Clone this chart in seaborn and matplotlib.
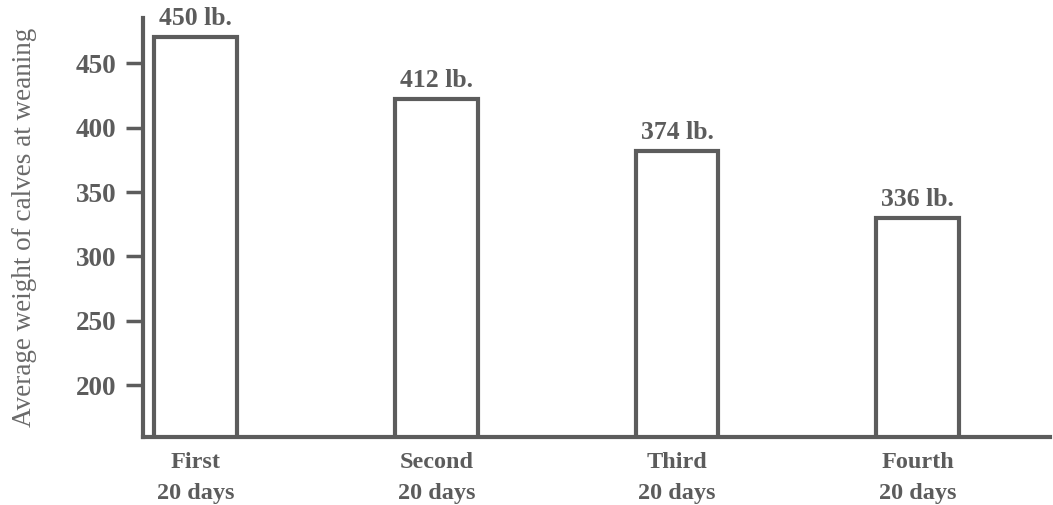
import pandas as pd
import matplotlib.pyplot as plt
import seaborn as sns

# values
periods = ["First\n20 days", "Second\n20 days", "Third\n20 days", "Fourth\n20 days"]
bar_heights = [470, 422, 382, 330]      # heights as drawn
label_weights = [450, 412, 374, 336]    # printed labels above the bars
y_ticks = [200, 250, 300, 350, 400, 450]

df = pd.DataFrame({"period": periods, "weight": bar_heights})

ink = "#5c5c5c"
sns.set_style("white")
plt.rcParams["font.family"] = ["Liberation Serif", "DejaVu Serif"]

fig = plt.figure(figsize=(10.53, 5.05), dpi=100)
ax = fig.add_axes([0.1358, 0.1347, 0.997 - 0.1358, 0.9644 - 0.1347])

sns.barplot(data=df, x="period", y="weight", ax=ax, width=0.345,
            facecolor="white", edgecolor=ink, linewidth=3.0)

# printed weight labels
for i, w in enumerate(label_weights):
    ax.annotate(f"{w} lb.", xy=(i, bar_heights[i]), xytext=(0, 5),
                textcoords="offset points", ha="center", va="bottom",
                fontsize=18.5, fontweight="bold", color=ink)

ax.set_xlim(-0.22, 3.55)
ax.set_ylim(160, 485)
ax.set_yticks(y_ticks)

for s in ["top", "right"]:
    ax.spines[s].set_visible(False)
for s in ["left", "bottom"]:
    ax.spines[s].set_color(ink)
    ax.spines[s].set_linewidth(3.0)

ax.tick_params(axis="y", direction="out", length=12, width=2.5, color=ink,
               pad=7, labelsize=19.5, labelcolor=ink, left=True)
ax.tick_params(axis="x", length=0, pad=11, labelsize=17.5, labelcolor=ink)
for lab in ax.get_yticklabels() + ax.get_xticklabels():
    lab.set_fontweight("bold")
for lab in ax.get_xticklabels():
    lab.set_linespacing(1.6)

ax.set_xlabel("")
ax.set_ylabel("Average weight of calves at weaning", fontsize=19.5,
              color="#6a6a6a", labelpad=28)

fig.savefig("out.png", dpi=100, facecolor="white")
